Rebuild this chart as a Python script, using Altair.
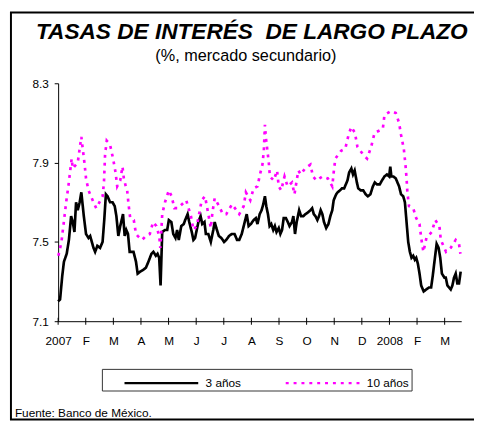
import altair as alt
import pandas as pd

# ---- data (months since Jan-2007 on x, percent on y) ----
meses = ["2007", "F", "M", "A", "M", "J", "J", "A", "S", "O", "N", "D", "2008", "F", "M"]
y_ticks = [7.1, 7.5, 7.9, 8.3]
series = ["3 años", "10 años"]

t_3 = [0.00, 0.07, 0.15, 0.21, 0.31, 0.39, 0.47, 0.53, 0.59, 0.65, 0.71, 0.78, 0.84, 0.93,
       1.01, 1.10, 1.16, 1.22, 1.28, 1.34, 1.42, 1.52, 1.61, 1.67, 1.73, 1.79, 1.88, 1.97,
       2.05, 2.11, 2.18, 2.25, 2.35, 2.41, 2.47, 2.53, 2.59, 2.68, 2.73, 2.82, 2.88, 2.97,
       3.09, 3.18, 3.27, 3.38, 3.45, 3.54, 3.60, 3.66, 3.71, 3.77, 3.87, 3.95, 4.01, 4.10,
       4.17, 4.25, 4.31, 4.37, 4.46, 4.55, 4.60, 4.69, 4.75, 4.84, 4.90, 4.96, 5.02, 5.08,
       5.16, 5.22, 5.30, 5.35, 5.44, 5.53, 5.62, 5.67, 5.73, 5.82, 5.91, 6.01, 6.09, 6.19,
       6.29, 6.39, 6.48, 6.56, 6.65, 6.74, 6.83, 6.90, 6.98, 7.08, 7.16, 7.22, 7.30, 7.37,
       7.43, 7.49, 7.54, 7.60, 7.66, 7.72, 7.79, 7.85, 7.91, 7.99, 8.05, 8.11, 8.17, 8.25,
       8.32, 8.38, 8.47, 8.52, 8.58, 8.64, 8.73, 8.80, 8.88, 8.96, 9.06, 9.14, 9.20, 9.26,
       9.32, 9.39, 9.45, 9.51, 9.57, 9.63, 9.71, 9.79, 9.86, 9.93, 9.98, 10.07, 10.12, 10.21,
       10.28, 10.36, 10.42, 10.48, 10.54, 10.62, 10.68, 10.74, 10.82, 10.87, 10.96, 11.05,
       11.14, 11.22, 11.31, 11.40, 11.47, 11.55, 11.65, 11.73, 11.82, 11.91, 11.99, 12.03,
       12.07, 12.14, 12.23, 12.29, 12.35, 12.42, 12.50, 12.56, 12.62, 12.68, 12.74, 12.80,
       12.86, 12.92, 12.97, 13.03, 13.09, 13.15, 13.24, 13.33, 13.43, 13.51, 13.57, 13.63,
       13.71, 13.78, 13.84, 13.90, 13.99, 14.04, 14.10, 14.16, 14.22, 14.28, 14.34, 14.40,
       14.46, 14.52, 14.58]
v_3 = [7.20, 7.21, 7.33, 7.40, 7.44, 7.51, 7.63, 7.60, 7.55, 7.70, 7.66, 7.70, 7.75, 7.63,
       7.54, 7.52, 7.53, 7.50, 7.47, 7.45, 7.48, 7.47, 7.50, 7.61, 7.74, 7.73, 7.70, 7.70,
       7.68, 7.63, 7.53, 7.58, 7.64, 7.53, 7.56, 7.54, 7.45, 7.45, 7.45, 7.40, 7.34, 7.35,
       7.36, 7.37, 7.40, 7.44, 7.45, 7.43, 7.44, 7.42, 7.28, 7.55, 7.56, 7.56, 7.61, 7.60,
       7.54, 7.52, 7.56, 7.51, 7.58, 7.59, 7.61, 7.64, 7.60, 7.55, 7.51, 7.52, 7.56, 7.60,
       7.63, 7.59, 7.60, 7.54, 7.54, 7.50, 7.56, 7.60, 7.57, 7.53, 7.52, 7.50, 7.51, 7.53,
       7.54, 7.54, 7.51, 7.51, 7.54, 7.59, 7.64, 7.58, 7.59, 7.61, 7.62, 7.59, 7.64, 7.66,
       7.69, 7.73, 7.68, 7.64, 7.58, 7.59, 7.56, 7.58, 7.55, 7.57, 7.54, 7.56, 7.62, 7.62,
       7.60, 7.58, 7.60, 7.63, 7.54, 7.60, 7.66, 7.63, 7.63, 7.64, 7.65, 7.66, 7.67, 7.64,
       7.63, 7.61, 7.63, 7.66, 7.64, 7.60, 7.57, 7.59, 7.63, 7.66, 7.71, 7.74, 7.75, 7.76,
       7.77, 7.77, 7.79, 7.81, 7.85, 7.87, 7.84, 7.86, 7.80, 7.77, 7.76, 7.76,
       7.74, 7.73, 7.74, 7.78, 7.80, 7.79, 7.79, 7.81, 7.83, 7.84, 7.83, 7.88,
       7.83, 7.83, 7.82, 7.80, 7.78, 7.74, 7.73, 7.70, 7.60, 7.50, 7.45, 7.42,
       7.43, 7.41, 7.42, 7.39, 7.34, 7.28, 7.25, 7.26, 7.27, 7.27, 7.33, 7.40,
       7.49, 7.47, 7.42, 7.34, 7.32, 7.32, 7.28, 7.27, 7.26, 7.28, 7.32, 7.34,
       7.29, 7.29, 7.35]

t_10 = [0.01, 0.12, 0.18, 0.24, 0.30, 0.37, 0.43, 0.49, 0.53, 0.71, 0.78, 0.84, 0.90, 0.96,
        1.01, 1.10, 1.28, 1.38, 1.61, 1.66, 1.68, 1.70, 1.76, 1.88, 1.99, 2.08, 2.14, 2.25,
        2.33, 2.38, 2.45, 2.50, 2.55, 2.61, 2.74, 2.82, 2.88, 3.04, 3.18, 3.32, 3.44, 3.56,
        3.66, 3.70, 3.74, 3.77, 3.87, 4.01, 4.11, 4.21, 4.34, 4.64, 4.81, 4.90, 5.02, 5.12,
        5.20, 5.32, 5.44, 5.53, 5.59, 5.67, 5.79, 5.97, 6.09, 6.30, 6.56, 6.72, 6.80, 6.96,
        7.08, 7.22, 7.31, 7.40, 7.45, 7.49, 7.53, 7.63, 7.67, 7.81, 7.93, 7.99, 8.08, 8.20,
        8.31, 8.47, 8.56, 8.70, 8.79, 8.94, 9.14, 9.23, 9.36, 9.57, 9.77, 9.93, 9.98, 10.04,
        10.25, 10.40, 10.52, 10.62, 10.75, 10.84, 11.05, 11.19, 11.34, 11.46, 11.76, 11.82,
        12.06, 12.23, 12.35, 12.42, 12.52, 12.58, 12.62, 12.65, 12.71, 12.86, 12.97, 13.09,
        13.15, 13.23, 13.34, 13.53, 13.66, 13.81, 13.86, 14.05, 14.22, 14.40, 14.52, 14.57]
v_10 = [7.43, 7.50, 7.57, 7.64, 7.71, 7.78, 7.85, 7.92, 7.87, 7.90, 7.97, 8.03, 7.96, 7.89,
        7.82, 7.76, 7.70, 7.67, 7.73, 7.80, 7.87, 7.94, 8.01, 7.99, 7.92, 7.85, 7.78, 7.81,
        7.88, 7.82, 7.78, 7.76, 7.69, 7.62, 7.61, 7.54, 7.53, 7.51, 7.53, 7.54, 7.60, 7.58,
        7.53, 7.47, 7.56, 7.64, 7.70, 7.76, 7.73, 7.67, 7.67, 7.71, 7.63, 7.56, 7.58, 7.65,
        7.71, 7.73, 7.64, 7.57, 7.65, 7.72, 7.69, 7.64, 7.64, 7.69, 7.64, 7.68, 7.75, 7.71,
        7.77, 7.78, 7.84, 7.89, 7.96, 8.09, 8.02, 7.90, 7.83, 7.81, 7.86, 7.78, 7.76, 7.83,
        7.78, 7.80, 7.74, 7.86, 7.84, 7.87, 7.89, 7.83, 7.81, 7.83, 7.82, 7.78, 7.85, 7.92,
        7.96, 7.97, 8.04, 8.08, 8.05, 7.98, 7.94, 7.92, 7.98, 8.05, 8.07, 8.14,
        8.16, 8.15, 8.10, 8.04, 7.97, 7.89, 7.82, 7.75, 7.68, 7.67, 7.62, 7.59,
        7.52, 7.45, 7.52, 7.55, 7.61, 7.58, 7.51, 7.45, 7.47, 7.51, 7.49, 7.44]

titulo = "TASAS DE INTERÉS\u00a0 DE LARGO PLAZO"
subtitulo = "(%, mercado secundario)"
fuente = "Fuente: Banco de México."

rows = [{"t": t, "v": v, "serie": series[0]} for t, v in zip(t_3, v_3)]
rows += [{"t": t, "v": v, "serie": series[1]} for t, v in zip(t_10, v_10)]
df = pd.DataFrame(rows)
ticks_df = pd.DataFrame({"t": list(range(len(meses))), "v": [y_ticks[0]] * len(meses)})

FONT = "Liberation Sans"
label_expr = "[" + ",".join("'" + m + "'" for m in meses) + "][datum.value]"

x_scale = alt.Scale(domain=[0, 14.6], nice=False, zero=False)
y_scale = alt.Scale(domain=[7.1, 8.3], nice=False, zero=False)
x_axis = alt.Axis(values=list(range(len(meses))), labelExpr=label_expr, title=None,
                  grid=False, ticks=False, labelPadding=15, labelFontSize=12,
                  labelFont=FONT, labelColor="black", domainColor="black",
                  labelFlush=False, labelOverlap=False)
y_axis = alt.Axis(values=y_ticks, format=".1f", title=None, grid=False,
                  tickSize=4, labelPadding=6, labelFontSize=12, labelFont=FONT,
                  labelColor="black", domainColor="black", tickColor="black")

lines = alt.Chart(df).mark_line(strokeWidth=2.7, clip=False).encode(
    x=alt.X("t:Q", scale=x_scale, axis=x_axis),
    y=alt.Y("v:Q", scale=y_scale, axis=y_axis),
    color=alt.Color("serie:N",
                    scale=alt.Scale(domain=series, range=["#000000", "#FF00FF"]),
                    legend=alt.Legend(orient="none", legendX=66, legendY=266,
                                      direction="horizontal", title=None,
                                      symbolType="stroke", symbolSize=5625,
                                      symbolStrokeWidth=2.5, labelFontSize=12,
                                      labelFont=FONT, labelColor="black",
                                      labelOffset=6, columnPadding=39, padding=0,
                                      symbolDash={"expr": "datum.value === '10 años' ? [5, 9] : [1, 0]"})),
    strokeDash=alt.StrokeDash("serie:N",
                              scale=alt.Scale(domain=series, range=[[1, 0], [3, 5]]),
                              legend=None),
)

# x-axis ticks crossing the axis line
xticks = alt.Chart(ticks_df).mark_tick(orient="vertical", size=7, thickness=1,
                                       color="black", opacity=1, clip=False).encode(
    x=alt.X("t:Q", scale=x_scale, axis=x_axis), y=alt.Y("v:Q", scale=y_scale, axis=y_axis))

one = pd.DataFrame({"k": [0]})
border = alt.Chart(one).mark_rect(filled=False, stroke="black", strokeWidth=2).encode(
    x=alt.value(-48), x2=alt.value(428), y=alt.value(-72), y2=alt.value(342))
legend_box = alt.Chart(one).mark_rect(filled=False, stroke="#333333", strokeWidth=1).encode(
    x=alt.value(45), x2=alt.value(360), y=alt.value(291), y2=alt.value(313))
title_txt = alt.Chart(one).mark_text(align="center", baseline="alphabetic", fontSize=23,
                                     fontWeight="bold", fontStyle="italic", font=FONT,
                                     color="black").encode(
    x=alt.value(197), y=alt.value(-45), text=alt.value(titulo))
sub_txt = alt.Chart(one).mark_text(align="center", baseline="alphabetic", fontSize=16.5,
                                   font=FONT, color="black").encode(
    x=alt.value(191), y=alt.value(-23), text=alt.value(subtitulo))
footer = alt.Chart(one).mark_text(align="left", baseline="middle", fontSize=12,
                                  font=FONT, color="black").encode(
    x=alt.value(-44), y=alt.value(335), text=alt.value(fuente))

chart = alt.layer(lines, xticks, border, legend_box, title_txt, sub_txt, footer).properties(
    width=410, height=242,
    autosize=alt.AutoSizeParams(type="none"),
    padding={"left": 51, "top": 73, "right": 13, "bottom": 102},
).configure_view(stroke=None)

chart.save("out.html", embed_options={"renderer": "svg", "actions": False})
